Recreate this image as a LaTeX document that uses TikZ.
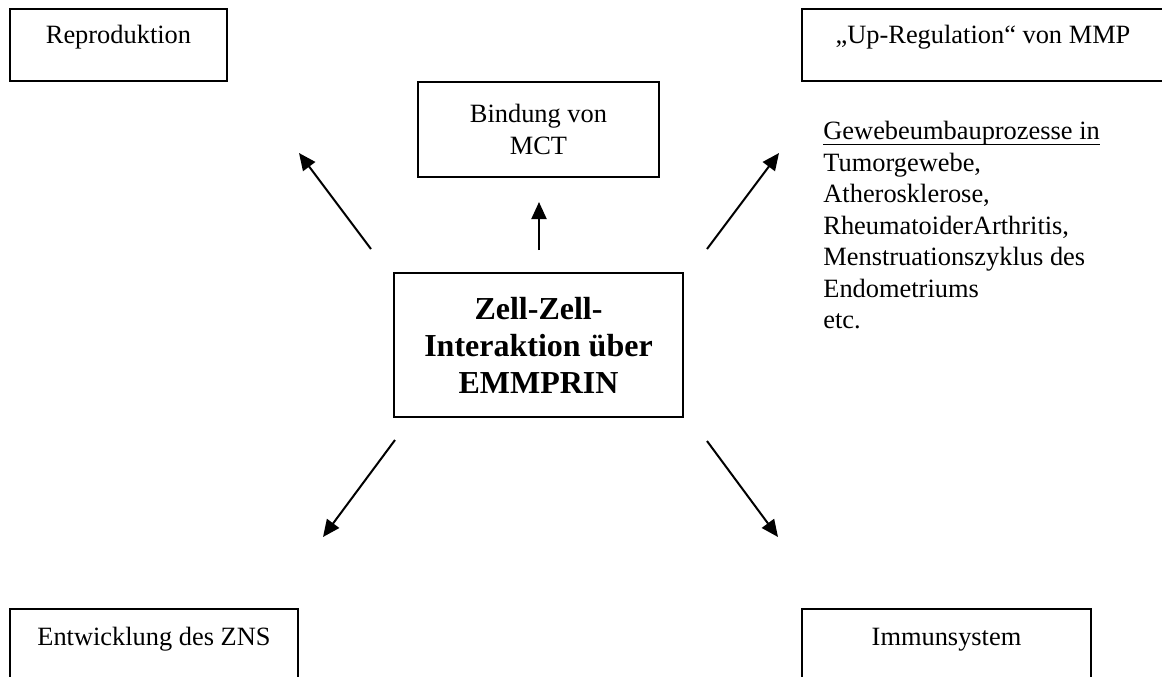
\documentclass[tikz,border=0pt]{standalone}
\usepackage{fontspec}
\setmainfont{Liberation Serif}
\usetikzlibrary{arrows.meta, positioning}

% underline that sits close to the baseline
\newcommand{\closeul}[1]{\underline{\raisebox{0pt}[\height][0.9pt]{#1}}}

\tikzset{
  plainbox/.style={draw, line width=1pt, inner sep=0pt,
    font=\fontsize{13.2}{16}\selectfont},
  topbox/.style={plainbox, text height=17pt, text depth=19pt},
  effect/.style={-{Triangle[length=8.5pt,width=7.5pt]}, line width=1pt},
}

\begin{document}
\begin{tikzpicture}[x=0.5pt, y=-0.5pt]
  \useasboundingbox (0,0) rectangle (1162,676);

  % Centre -- EMMPRIN
  \node[plainbox, minimum width=144.5pt, minimum height=72pt, align=center,
        font=\fontsize{16}{18.5}\selectfont\bfseries] (zell) at (538.5,345)
       {Zell-Zell-\\Interaktion über\\EMMPRIN};

  % Top row
  \node[topbox, minimum width=108.5pt] (repro) at (118.5,45) {Reproduktion};
  \node[plainbox, minimum width=120.5pt, minimum height=47.5pt, align=center]
       (mct) at (538.5,129.5) {Bindung von\\MCT};
  \node[topbox, minimum width=181pt] (upreg) at (983,45)
       {„Up-Regulation“ von MMP};

  % Note below the MMP box
  \node[anchor=north west, align=left, inner sep=0pt,
        font=\fontsize{13.2}{15.75}\selectfont] (remodel) at (823,121)
       {\closeul{Gewebeumbauprozesse in}\\
        Tumorgewebe,\\
        Atherosklerose,\\
        RheumatoiderArthritis,\\
        Menstruationszyklus des\\
        Endometriums\\
        etc.};

  % Bottom row
  \node[topbox, text height=18pt, text depth=18pt, minimum width=144pt]
       (zns) at (154,645) {Entwicklung des ZNS};
  \node[topbox, text height=18pt, text depth=18pt, minimum width=144.5pt]
       (immun) at (946.5,645) {Immunsystem};

  % Arrow ends
  \coordinate (reproFrom) at (371,249);
  \coordinate (reproTip)  at (299,153);
  \coordinate (mctFrom)   at (539,250);
  \coordinate (mctTip)    at (539,202);
  \coordinate (upregFrom) at (707,249);
  \coordinate (upregTip)  at (779,153);
  \coordinate (znsFrom)   at (395,440);
  \coordinate (znsTip)    at (323,537);
  \coordinate (immunFrom) at (707,441);
  \coordinate (immunTip)  at (778,537);

  % Arrows out of the centre
  \draw[effect] (reproFrom) -- (reproTip);
  \draw[effect] (mctFrom) -- (mctTip);
  \draw[effect] (upregFrom) -- (upregTip);
  \draw[effect] (znsFrom) -- (znsTip);
  \draw[effect] (immunFrom) -- (immunTip);
\end{tikzpicture}
\end{document}
